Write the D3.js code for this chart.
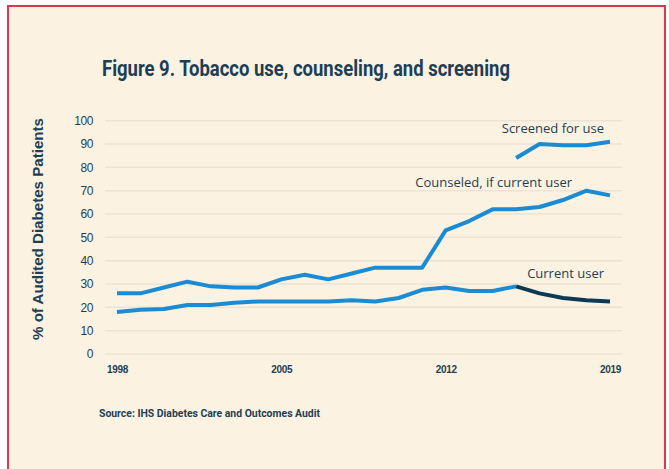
<!DOCTYPE html>
<html lang="en">
<head>
<meta charset="UTF-8">
<title>Figure 9</title>
<script src="https://cdn.jsdelivr.net/npm/d3@7"></script>
<style>
  body { margin: 0; background: #fff; }
</style>
</head>
<body>
<svg></svg>
<script>
var years = [1998,1999,2000,2001,2002,2003,2004,2005,2006,2007,2008,2009,2010,2011,2012,2013,2014,2015,2016,2017,2018,2019];
var counseled = [26,26,28.5,31,29,28.5,28.5,32,34,32,34.5,37,37,37,53,57,62,62,63,66,70,68];
var currentUser = [18,19,19.3,21,21,22,22.5,22.5,22.5,22.5,23,22.5,24,27.5,28.5,27,27,29,26,24,23,22.5];
var screenedYears = [2015,2016,2017,2018,2019];
var screened = [84,90,89.5,89.5,91];
var yTicks = [0,10,20,30,40,50,60,70,80,90,100];
var xTicks = [1998,2005,2012,2019];

var W = 669, H = 469;
var blue = '#1b8bd3', dark = '#0c3a52', ink = '#1c3f56';

var svg = d3.select('svg').attr('width', W).attr('height', H);

// cream panel with red frame
svg.append('rect')
    .attr('x', 8).attr('y', 6)
    .attr('width', 657).attr('height', 480)
    .attr('fill', '#fcf2e2')
    .attr('stroke', '#d8394e')
    .attr('stroke-width', 2);

var x = d3.scaleLinear().domain([1998, 2019]).range([117, 610]);
var y = d3.scaleLinear().domain([0, 100]).range([354, 120.7]);

// gridlines
svg.append('g')
    .selectAll('line')
    .data(yTicks)
    .enter().append('line')
    .attr('x1', 105).attr('x2', 622)
    .attr('y1', function(d) { return y(d); })
    .attr('y2', function(d) { return y(d); })
    .attr('stroke', '#ebe4d6')
    .attr('stroke-width', 1.5);

// y axis labels
var yAxis = svg.append('g')
    .attr('transform', 'translate(93,0)')
    .call(d3.axisLeft(y).tickValues(yTicks).tickSize(0).tickPadding(0));
yAxis.select('.domain').remove();
yAxis.selectAll('text')
    .attr('fill', ink)
    .style('font-family', 'Liberation Sans, Arial, sans-serif')
    .style('font-size', '12px')
    .style('letter-spacing', '-0.4px');

// x axis labels
var xAxis = svg.append('g')
    .attr('transform', 'translate(0,366)')
    .call(d3.axisBottom(x).tickValues(xTicks).tickFormat(d3.format('d')).tickSize(0).tickPadding(0));
xAxis.select('.domain').remove();
xAxis.selectAll('text')
    .attr('fill', ink)
    .style('font-family', 'Liberation Sans, Arial, sans-serif')
    .style('font-weight', 'bold')
    .style('font-size', '10px')
    .style('letter-spacing', '-0.3px');

var line = d3.line()
    .x(function(d) { return x(d[0]); })
    .y(function(d) { return y(d[1]); })
    .curve(d3.curveLinear);

function drawLine(pts, color) {
    svg.append('path')
        .datum(pts)
        .attr('fill', 'none')
        .attr('stroke', color)
        .attr('stroke-width', 4)
        .attr('stroke-linejoin', 'round')
        .attr('d', line);
}

var counseledPts = years.map(function(yr, i) { return [yr, counseled[i]]; });
var currentPts = years.map(function(yr, i) { return [yr, currentUser[i]]; });
var screenedPts = screenedYears.map(function(yr, i) { return [yr, screened[i]]; });

drawLine(counseledPts, blue);
drawLine(currentPts.filter(function(d) { return d[0] <= 2015; }), blue);
drawLine(currentPts.filter(function(d) { return d[0] >= 2015; }), dark);
drawLine(screenedPts, blue);

// series labels
var labelFont = 'Open Sans, Noto Sans, sans-serif';
svg.append('text').attr('x', 604).attr('y', y(91) - 8.5)
    .attr('text-anchor', 'end').attr('fill', ink)
    .style('font-family', labelFont).style('font-size', '13px')
    .text('Screened for use');
svg.append('text').attr('x', 572).attr('y', y(70) - 3.5)
    .attr('text-anchor', 'end').attr('fill', ink)
    .style('font-family', labelFont).style('font-size', '13px')
    .text('Counseled, if current user');
svg.append('text').attr('x', 604).attr('y', y(29) - 8)
    .attr('text-anchor', 'end').attr('fill', ink)
    .style('font-family', labelFont).style('font-size', '13px')
    .text('Current user');

// title
svg.append('text')
    .attr('x', 102).attr('y', 76)
    .attr('fill', ink)
    .attr('textLength', 408).attr('lengthAdjust', 'spacingAndGlyphs')
    .style('font-family', 'Roboto, sans-serif')
    .style('font-weight', 'bold')
    .style('font-size', '22px')
    .text('Figure 9. Tobacco use, counseling, and screening');

// y axis title
svg.append('text')
    .attr('transform', 'translate(43,229) rotate(-90)')
    .attr('text-anchor', 'middle')
    .attr('fill', ink)
    .attr('textLength', 222).attr('lengthAdjust', 'spacingAndGlyphs')
    .style('font-family', 'Liberation Sans, Arial, sans-serif')
    .style('font-weight', 'bold')
    .style('font-size', '14px')
    .text('% of Audited Diabetes Patients');

// source
svg.append('text')
    .attr('x', 99).attr('y', 417)
    .attr('fill', ink)
    .attr('textLength', 221).attr('lengthAdjust', 'spacingAndGlyphs')
    .style('font-family', 'Roboto, sans-serif')
    .style('font-weight', 'bold')
    .style('font-size', '10.5px')
    .text('Source: IHS Diabetes Care and Outcomes Audit');
</script>
</body>
</html>
